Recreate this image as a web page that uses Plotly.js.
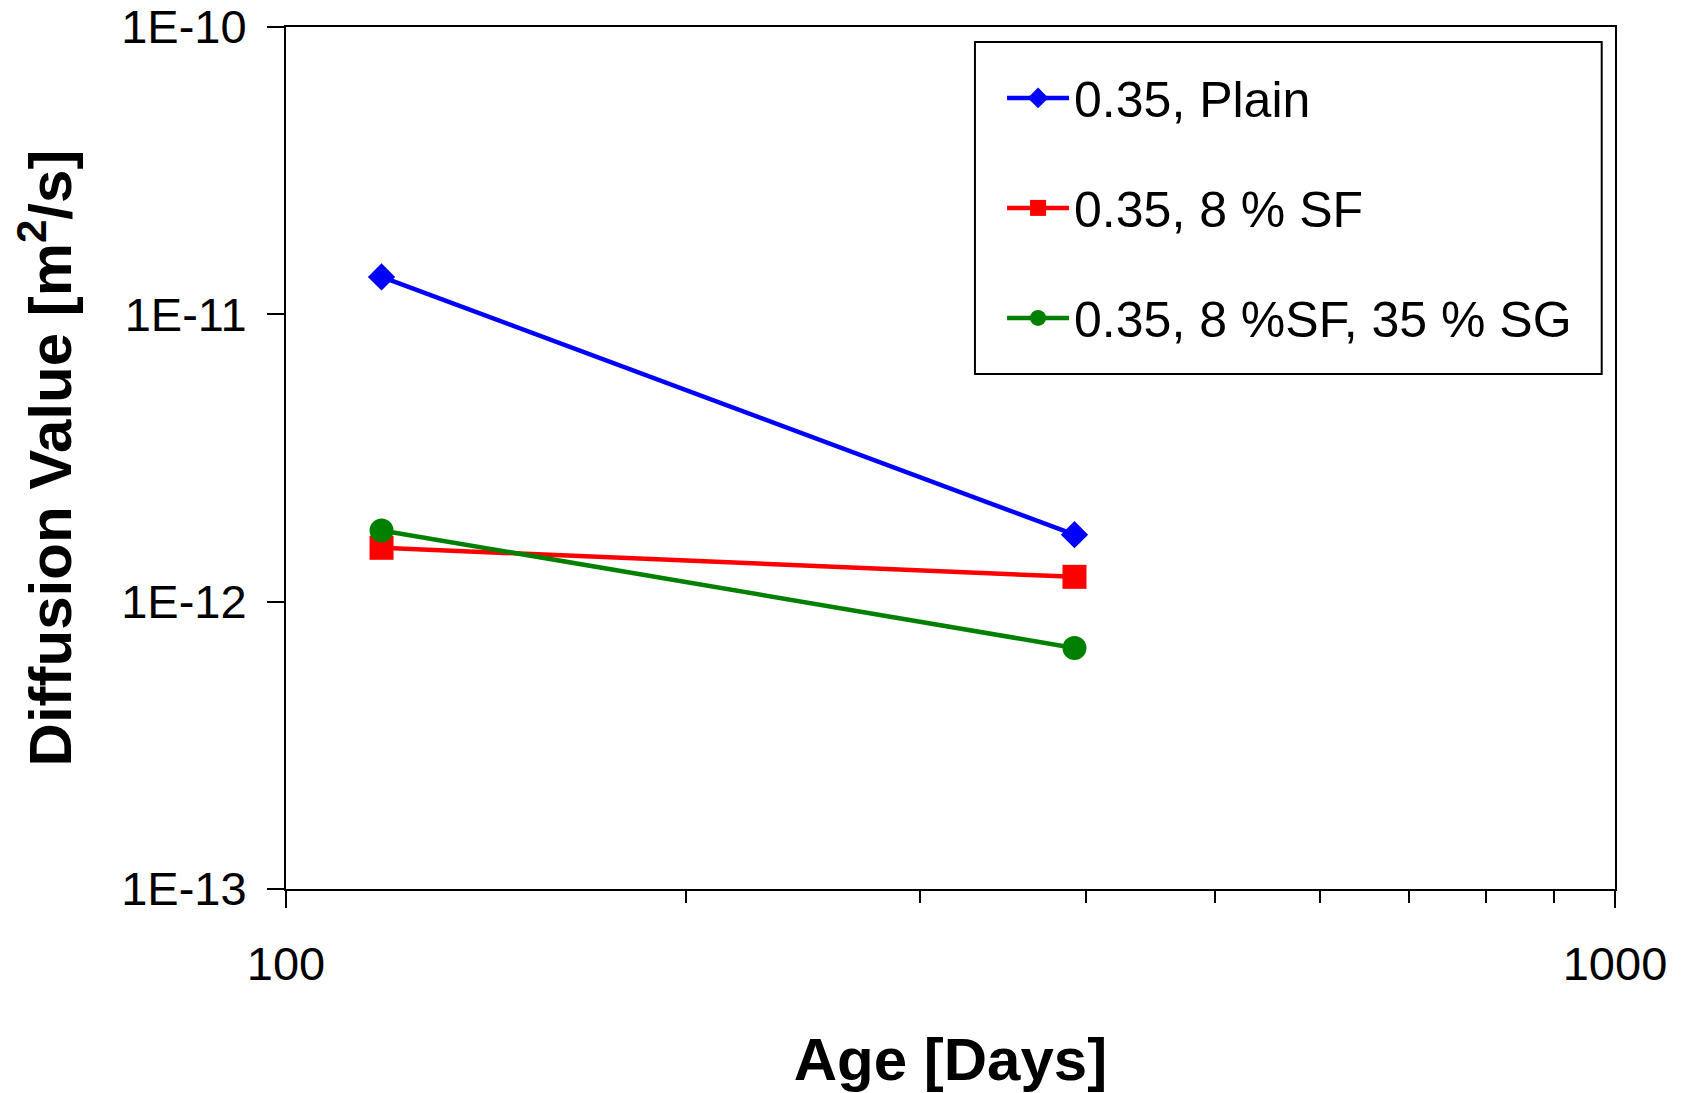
<!DOCTYPE html>
<html>
<head>
<meta charset="utf-8">
<script src="https://cdn.plot.ly/plotly-3.0.1.min.js"></script>
<style>
  html, body { margin: 0; padding: 0; background: #fff; }
  #chart { width: 1687px; height: 1093px; }
</style>
</head>
<body>
<div id="chart"></div>
<script>
// Data
const ageDays = [118, 392];
const plainValues = [1.35e-11, 1.71e-12];
const sfValues = [1.54e-12, 1.22e-12];
const sfSgValues = [1.77e-12, 6.9e-13];
const seriesNames = ["0.35, Plain", "0.35, 8 % SF", "0.35, 8 %SF, 35 % SG"];

const yTickVals = [1e-13, 1e-12, 1e-11, 1e-10];
const yTickText = ["1E-13", "1E-12", "1E-11", "1E-10"];
const xTickVals = [100, 1000];
const xTickText = ["100", "1000"];
const xMinorVals = [200, 300, 400, 500, 600, 700, 800, 900];

const FONT = "Liberation Sans, Arial, sans-serif";

const traces = [
  {
    x: ageDays, y: plainValues, name: seriesNames[0], legendgroup: "a",
    mode: "lines+markers", type: "scatter",
    line: { color: "#0000FF", width: 4.5 },
    marker: { symbol: "diamond", size: 21, color: "#0000FF" }
  },
  {
    x: ageDays, y: sfValues, name: seriesNames[1], legendgroup: "b",
    mode: "lines+markers", type: "scatter",
    line: { color: "#FF0000", width: 4.5 },
    marker: { symbol: "square", size: 24, color: "#FF0000" }
  },
  {
    x: ageDays, y: sfSgValues, name: seriesNames[2], legendgroup: "c",
    mode: "lines+markers", type: "scatter",
    line: { color: "#008000", width: 4.5 },
    marker: { symbol: "circle", size: 24, color: "#008000" }
  }
];

const layout = {
  width: 1687, height: 1093,
  paper_bgcolor: "#ffffff", plot_bgcolor: "#ffffff",
  margin: { l: 286, r: 72, t: 27, b: 204, pad: 0 },
  font: { family: FONT, color: "#000000" },
  showlegend: true,
  xaxis: {
    type: "log", range: [2, 3], autorange: false,
    tickvals: xTickVals, ticktext: xTickText,
    ticks: "outside", ticklen: 17, tickwidth: 2, tickcolor: "#000",
    ticklabelstandoff: 16,
    ticklabeloverflow: "allow",
    minor: { tickvals: xMinorVals, ticks: "outside", ticklen: 12, tickwidth: 2, tickcolor: "#000", showgrid: false },
    showgrid: false, zeroline: false,
    showline: true, linecolor: "#000", linewidth: 2, mirror: true,
    tickfont: { family: FONT, size: 47, color: "#000" },
    title: { text: "Age [Days]", font: { family: FONT, size: 60, color: "#000", weight: "bold" }, standoff: 50 },
    automargin: false
  },
  yaxis: {
    type: "log", range: [-13, -10], autorange: false,
    tickvals: yTickVals, ticktext: yTickText,
    ticks: "outside", ticklen: 17, tickwidth: 2, tickcolor: "#000",
    ticklabelstandoff: 11,
    ticklabeloverflow: "allow",
    showgrid: false, zeroline: false,
    showline: true, linecolor: "#000", linewidth: 2, mirror: true,
    tickfont: { family: FONT, size: 47, color: "#000" },
    title: { text: "Diffusion Value [m<sup>2</sup>/s]", font: { family: FONT, size: 60, color: "#000", weight: "bold" }, standoff: 30 },
    automargin: false
  },
  legend: {
    x: 0.5388, y: 0.963, xanchor: "left", yanchor: "top",
    bgcolor: "rgba(0,0,0,0)", borderwidth: 0,
    font: { family: FONT, size: 50, color: "#000" },
    tracegroupgap: 42,
    itemwidth: 62
  },
  shapes: [
    {
      type: "rect", xref: "paper", yref: "paper", layer: "below",
      x0: 0.5184, x1: 0.990, y0: 0.5974, y1: 0.9826,
      line: { color: "#000000", width: 2 }, fillcolor: "#ffffff"
    }
  ]
};

Plotly.newPlot("chart", traces, layout, { displayModeBar: false, staticPlot: true });
</script>
</body>
</html>
